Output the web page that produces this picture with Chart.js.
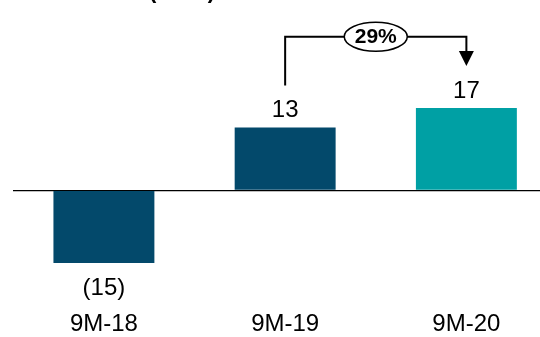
<!DOCTYPE html>
<html><head><meta charset="utf-8">
<script src="https://cdn.jsdelivr.net/npm/chart.js@4"></script>
<style>html,body{margin:0;padding:0;overflow:hidden;background:#fff}#wrap{width:557px;height:351px;position:relative}</style>
</head><body><div id="wrap"><canvas id="c"></canvas></div>
<script>
const categories = ['9M-18', '9M-19', '9M-20'];
const values = [-15, 13, 17];
const valueLabels = ['(15)', '13', '17'];
const barColors = ['#03496B', '#03496B', '#00A0A4'];
const growthLabel = '29%';
const unitTitle = '(€ mn)';
const FONT = "'Liberation Sans', Arial, sans-serif";

const annot = {
  id: 'annot',
  afterDatasetsDraw(chart) {
    const { ctx, chartArea } = chart;
    const meta = chart.getDatasetMeta(0);
    ctx.save();
    // partially visible title
    ctx.font = `bold 22px ${FONT}`;
    ctx.fillStyle = '#000';
    ctx.textAlign = 'center';
    ctx.textBaseline = 'alphabetic';
    ctx.fillText(unitTitle, 182, -2);
    // value labels
    ctx.font = `24px ${FONT}`;
    ctx.textBaseline = 'middle';
    meta.data.forEach((bar, i) => {
      const yy = values[i] >= 0 ? bar.y - 17 : bar.y + 25;
      ctx.fillText(valueLabels[i], bar.x, yy);
    });
    // growth bracket
    const x1 = meta.data[1].x, x2 = meta.data[2].x;
    const topY = chartArea.top + 36.7;
    const y1 = meta.data[1].y - 42;
    const tip = meta.data[2].y - 42;
    ctx.strokeStyle = '#000';
    ctx.lineWidth = 2;
    ctx.beginPath();
    ctx.moveTo(x1, y1); ctx.lineTo(x1, topY); ctx.lineTo(x2, topY); ctx.lineTo(x2, tip - 14);
    ctx.stroke();
    ctx.fillStyle = '#000';
    ctx.beginPath();
    ctx.moveTo(x2 - 7.5, tip - 15); ctx.lineTo(x2 + 7.5, tip - 15); ctx.lineTo(x2, tip);
    ctx.closePath(); ctx.fill();
    // ellipse
    const cx = (x1 + x2) / 2;
    ctx.beginPath();
    ctx.ellipse(cx, topY, 31.5, 14.5, 0, 0, Math.PI * 2);
    ctx.fillStyle = '#fff'; ctx.fill();
    ctx.lineWidth = 1.5; ctx.stroke();
    ctx.fillStyle = '#000';
    ctx.font = `bold 21px ${FONT}`;
    ctx.fillText(growthLabel, cx, topY + 1);
    ctx.restore();
  }
};

new Chart(document.getElementById('c'), {
  type: 'bar',
  data: {
    labels: categories,
    datasets: [{ data: values, backgroundColor: barColors, borderWidth: 0,
      barPercentage: 0.557, categoryPercentage: 1 }]
  },
  options: {
    responsive: true, maintainAspectRatio: false, devicePixelRatio: 1, animation: false,
    layout: { padding: { left: 13.3, right: 0, top: 0, bottom: 0 } },
    plugins: { legend: { display: false }, tooltip: { enabled: false }, title: { display: false } },
    scales: {
      x: {
        offset: true,
        grid: { display: false, drawTicks: false },
        border: { display: false },
        ticks: { color: '#000', font: { family: FONT, size: 24 }, padding: 12, maxRotation: 0 }
      },
      y: {
        min: -22.25, max: 39.32,
        grid: { drawTicks: false, color: c => c.tick.value === 0 ? '#000' : 'rgba(0,0,0,0)', lineWidth: 1.3 },
        border: { display: false },
        ticks: { display: false, stepSize: 10 }
      }
    }
  },
  plugins: [annot]
});
</script></body></html>
